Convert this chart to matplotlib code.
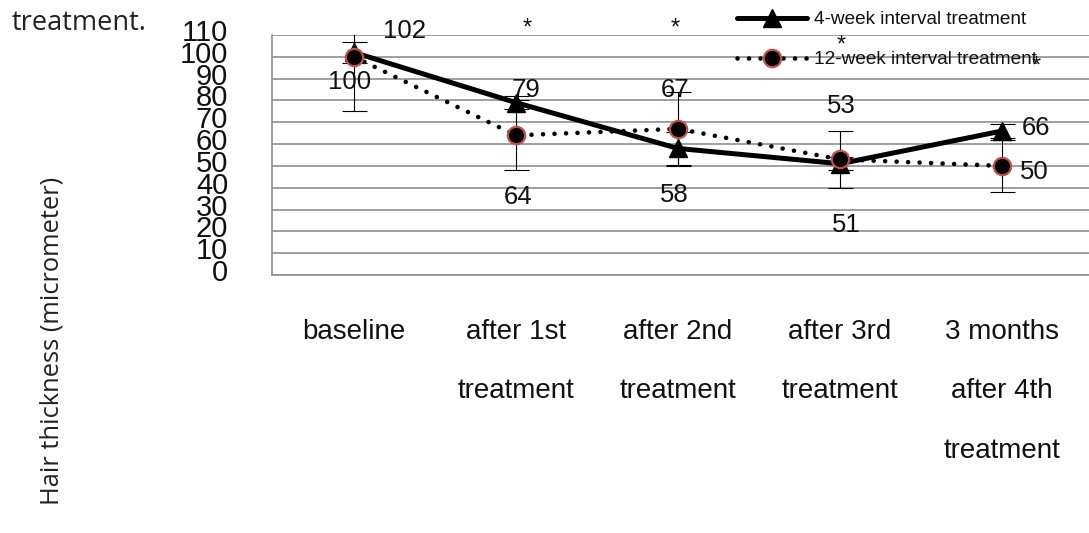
import matplotlib
matplotlib.use("Agg")
import matplotlib.pyplot as plt
import matplotlib.font_manager as fm
import matplotlib.transforms as mtransforms

# ---------------- data ----------------
categories = ["baseline", "after 1st\ntreatment", "after 2nd\ntreatment",
              "after 3rd\ntreatment", "3 months\nafter 4th\ntreatment"]
series_names = ["4-week interval treatment", "12-week interval treatment"]
week4_values = [102, 79, 58, 51, 66]
week12_values = [100, 64, 67, 53, 50]
week4_err = [5, 3, 7.5, 3, 3]
week12_err = [25, 16, 17, 13, 12]
y_ticks = [0, 10, 20, 30, 40, 50, 60, 70, 80, 90, 100, 110]
star_cats = [1, 2, 3, 4]
star_levels = [113, 113, 105, 95.5]

# ---------------- fonts ----------------
def has_font(name):
    try:
        fm.findfont(fm.FontProperties(family=name), fallback_to_default=False)
        return True
    except Exception:
        return False

narrow = "Liberation Sans Narrow" if has_font("Liberation Sans Narrow") else "Liberation Sans"
helv = "Liberation Sans"
side = "Open Sans" if has_font("Open Sans") else "DejaVu Sans"
txt_color = "#111111"

# ---------------- figure ----------------
W, H = 1089, 533
fig = plt.figure(figsize=(W / 100, H / 100), dpi=100)
ax_left, ax_right, ax_top, ax_bot = 272, 1089, 35, 275
ax = fig.add_axes([ax_left / W, 1 - ax_bot / H, (ax_right - ax_left) / W, (ax_bot - ax_top) / H])

x = list(range(len(categories)))
ax.set_xlim(-0.506, 4.537)
ax.set_ylim(0, 110)

grid_c = "#8f8f8f"
ax.set_yticks(y_ticks)
ax.yaxis.grid(True, color=grid_c, linewidth=1.2)
ax.set_axisbelow(True)
for s in ["top", "right"]:
    ax.spines[s].set_visible(False)
for s in ["left", "bottom"]:
    ax.spines[s].set_color(grid_c)
    ax.spines[s].set_linewidth(1.2)

# error bars (behind lines)
ax.errorbar(x, week4_values, yerr=week4_err, fmt="none", ecolor="black",
            elinewidth=0.8, capsize=9, capthick=0.8, zorder=2)
ax.errorbar(x, week12_values, yerr=week12_err, fmt="none", ecolor="black",
            elinewidth=0.8, capsize=9, capthick=0.8, zorder=2)

l4, = ax.plot(x, week4_values, color="black", linewidth=3.6, marker="^",
              markersize=13, markerfacecolor="black", markeredgecolor="black",
              solid_capstyle="round", zorder=3, label=series_names[0])
l12, = ax.plot(x, week12_values, color="black", linewidth=3.3,
               linestyle=(0, (0.01, 2.5)), dash_capstyle="round",
               marker="o", markersize=12.5, markerfacecolor="black",
               markeredgecolor="#c0504d", markeredgewidth=1.6,
               zorder=4, label=series_names[1])

# value labels (offsets relative to the points)
off4 = [(0.31, 9.7), (0.06, 6), (-0.02, -21.3), (0.04, -28), (0.21, 1.4)]
off12 = [(-0.03, -11.5), (0.01, -28.2), (-0.02, 18), (0.01, 24.3), (0.20, -3)]
for vals, offs in ((week4_values, off4), (week12_values, off12)):
    for i, (v, (dx, dy)) in enumerate(zip(vals, offs)):
        ax.text(i + dx, v + dy, f"{v}", ha="center", va="center",
                fontsize=18.5, family=helv, color=txt_color, clip_on=False, zorder=6)

# significance stars
star_dx = [0.07, -0.02, 0.01, 0.21]
for c, lv, dx in zip(star_cats, star_levels, star_dx):
    ax.text(c + dx, lv, "*", ha="center", va="center", fontsize=17, family=helv,
            color=txt_color, clip_on=False, zorder=6)

# ticks
ax.set_xticks(x)
ax.set_xticklabels(categories, family=helv, fontsize=20, color=txt_color,
                   linespacing=2.67, va="top")
ax.tick_params(axis="x", length=0, pad=31.5)
ax.tick_params(axis="y", length=0, pad=31.5)
ax.set_yticklabels([str(t) for t in y_ticks], family=narrow, fontsize=21, color=txt_color)
offset = mtransforms.ScaledTranslation(0, 5 / 100, fig.dpi_scale_trans)
for lab in ax.get_yticklabels():
    lab.set_transform(lab.get_transform() + offset)

# y label
ax.set_ylabel("Hair thickness (micrometer)", family=side, fontsize=18.4,
              color="#222222", va="center")
ax.yaxis.set_label_coords((52 - ax_left) / (ax_right - ax_left),
                          (ax_bot - 341) / (ax_bot - ax_top))

# caption fragment
fig.text(12 / W, 1 - 9 / H, "treatment.", family=side, fontsize=19.5,
         color="#222222", ha="left", va="top")

# legend
leg = fig.legend(handles=[l4, l12], loc="upper left",
                 bbox_to_anchor=(737 / W, 1 - 11 / H), frameon=False,
                 prop=fm.FontProperties(family=helv, size=13.7),
                 handlelength=3.7, handletextpad=0.35, labelspacing=1.19,
                 borderpad=0, borderaxespad=0, numpoints=1)
for t in leg.get_texts():
    t.set_color(txt_color)

fig.savefig("out.png", dpi=100)
